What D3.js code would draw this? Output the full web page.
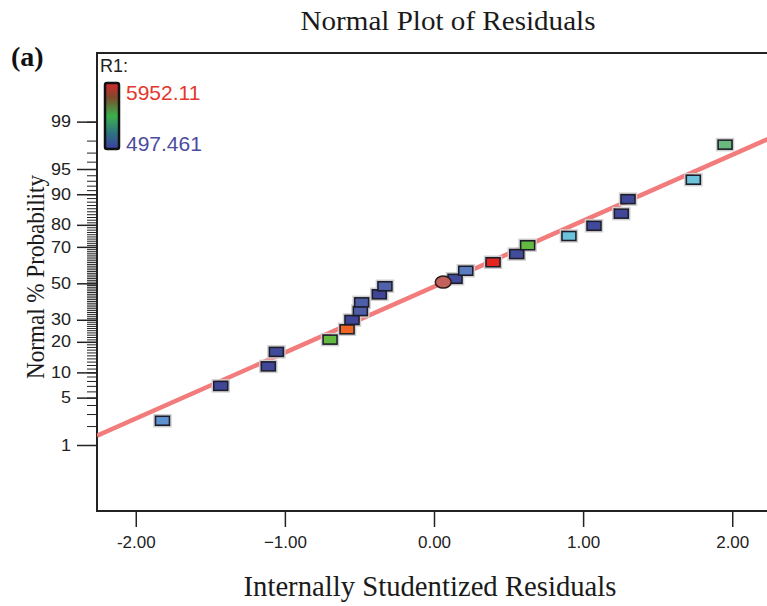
<!DOCTYPE html>
<html>
<head>
<meta charset="utf-8">
<script src="https://cdn.jsdelivr.net/npm/d3@7"></script>
<style>
  html, body { margin: 0; padding: 0; background: #ffffff; }
  svg { display: block; }
</style>
</head>
<body>
<svg id="chart" width="767" height="606"></svg>
<script>
// ---------------- DATA ----------------
// Internally studentized residuals (x) and normal % probability (y) of each run
const residuals = [-1.821, -1.430, -1.111, -1.057, -0.697, -0.583, -0.550, -0.494, -0.485, -0.367, -0.329,
                    0.062, 0.141, 0.213, 0.396, 0.555, 0.628, 0.905, 1.073, 1.256, 1.301, 1.739, 1.952];
const probabilities = [2.4, 7.0, 11.6, 16.2, 20.9, 25.4, 29.9, 34.5, 39.2, 43.7, 48.3,
                       50.7, 52.6, 57.2, 61.9, 66.3, 70.8, 75.2, 79.6, 84.2, 88.7, 93.2, 97.7];
// Estimated response R1 of each run (colour-coded)
const r1Values = [2000, 700, 700, 750, 3500, 4900, 700, 1200, 1200, 650, 1300,
                  5400, 750, 1700, 5900, 800, 3500, 2600, 750, 700, 700, 2600, 3100];
const selectedIndex = 11;               // highlighted run (drawn as an ellipse)
const r1Min = 497.461, r1Max = 5952.11;
const r1Label = "R1:";

// Reference line (normal % probability line), endpoints in residual / z units
const lineX = [-2.26, 2.26];
const lineZ = [-2.193, 2.096];

const xTicks = [-2, -1, 0, 1, 2];
const xTickLabels = ["-2.00", "\u22121.00", "0.00", "1.00", "2.00"];
const yMajorTicks = [1, 5, 10, 20, 30, 50, 70, 80, 90, 95, 99];
const yMinorTicks = d3.range(1, 100);

const titleText = "Normal Plot of Residuals";
const xTitle = "Internally Studentized Residuals";
const yTitle = "Normal % Probability";
const panelLabel = "(a)";

// ---------------- HELPERS ----------------
// Inverse standard normal CDF (Acklam)
function probit(p) {
  const a = [-3.969683028665376e+01, 2.209460984245205e+02, -2.759285104469687e+02, 1.383577518672690e+02, -3.066479806614716e+01, 2.506628277459239e+00];
  const b = [-5.447609879822406e+01, 1.615858368580409e+02, -1.556989798598866e+02, 6.680131188771972e+01, -1.328068155288572e+01];
  const c = [-7.784894002430293e-03, -3.223964580411365e-01, -2.400758277161838e+00, -2.549732539343734e+00, 4.374664141464968e+00, 2.938163982698783e+00];
  const d = [7.784695709041462e-03, 3.224671290700398e-01, 2.445134137142996e+00, 3.754408661907416e+00];
  const pl = 0.02425, ph = 1 - pl;
  let q, r;
  if (p < pl) {
    q = Math.sqrt(-2 * Math.log(p));
    return (((((c[0]*q+c[1])*q+c[2])*q+c[3])*q+c[4])*q+c[5]) / ((((d[0]*q+d[1])*q+d[2])*q+d[3])*q+1);
  } else if (p <= ph) {
    q = p - 0.5; r = q * q;
    return (((((a[0]*r+a[1])*r+a[2])*r+a[3])*r+a[4])*r+a[5])*q / (((((b[0]*r+b[1])*r+b[2])*r+b[3])*r+b[4])*r+1);
  } else {
    q = Math.sqrt(-2 * Math.log(1 - p));
    return -(((((c[0]*q+c[1])*q+c[2])*q+c[3])*q+c[4])*q+c[5]) / ((((d[0]*q+d[1])*q+d[2])*q+d[3])*q+1);
  }
}

// ---------------- LAYOUT ----------------
const svg = d3.select("#chart");
const plotLeft = 97, plotTop = 53, plotBottom = 511, plotRight = 771;

const x = d3.scaleLinear().domain([-2.26, 2.26]).range([plotLeft, plotRight]);
const yz = d3.scaleLinear().domain([-3.276, 3.314]).range([plotBottom, plotTop]);
// probability scale (percent -> pixel) built on the normal quantile
function yP(pct) { return yz(probit(pct / 100)); }
yP.copy = () => yP;
yP.range = () => yz.range();
yP.domain = () => [0.05, 99.95];

const serif = "'Liberation Serif','Times New Roman',Times,serif";
const sans = "'Liberation Sans',Arial,Helvetica,sans-serif";

// clip
svg.append("defs").append("clipPath").attr("id", "clip")
  .append("rect").attr("x", plotLeft).attr("y", plotTop)
  .attr("width", plotRight - plotLeft).attr("height", plotBottom - plotTop);

// legend gradient
const grad = svg.select("defs").append("linearGradient")
  .attr("id", "r1grad").attr("x1", 0).attr("y1", 0).attr("x2", 0).attr("y2", 1);
[["0%", "#d9282a"], ["22%", "#7d4a2c"], ["50%", "#3bb04a"], ["78%", "#2e6f86"], ["100%", "#3c3ea0"]]
  .forEach(([o, c]) => grad.append("stop").attr("offset", o).attr("stop-color", c));

const color = d3.scaleLinear()
  .domain([r1Min, 1300, 2000, 2600, 3100, 3500, 4900, r1Max])
  .range(["#3b3e92", "#4f62aa", "#5e92d0", "#6cc4da", "#69b87c", "#62bb40", "#f06424", "#e6221f"]);

// ---------------- TITLES ----------------
svg.append("text").attr("x", 448).attr("y", 30).attr("text-anchor", "middle")
  .attr("textLength", 295).attr("lengthAdjust", "spacingAndGlyphs")
  .style("font-family", serif).style("font-size", "28px").attr("fill", "#1a1a1a").text(titleText);
svg.append("text").attr("x", 11).attr("y", 66)
  .style("font-family", serif).style("font-size", "28px").style("font-weight", "bold").attr("fill", "#111").text(panelLabel);
svg.append("text").attr("x", 430).attr("y", 596).attr("text-anchor", "middle")
  .attr("textLength", 373).attr("lengthAdjust", "spacingAndGlyphs")
  .style("font-family", serif).style("font-size", "29px").attr("fill", "#1a1a1a").text(xTitle);
svg.append("text").attr("transform", "translate(44,277) rotate(-90)").attr("text-anchor", "middle")
  .attr("textLength", 204).attr("lengthAdjust", "spacingAndGlyphs")
  .style("font-family", serif).style("font-size", "26px").attr("fill", "#1a1a1a").text(yTitle);

// ---------------- AXES ----------------
const yMinorAxis = d3.axisLeft(yP).tickValues(yMinorTicks).tickSize(10).tickFormat("").tickSizeOuter(0);
const gMinor = svg.append("g").attr("transform", `translate(${plotLeft},0)`).call(yMinorAxis);
gMinor.select(".domain").remove();
gMinor.selectAll(".tick line").attr("stroke", "#222").attr("stroke-width", 1);

const yMajorAxis = d3.axisLeft(yP).tickValues(yMajorTicks).tickSize(20).tickPadding(6).tickSizeOuter(0);
const gMajor = svg.append("g").attr("transform", `translate(${plotLeft},0)`).call(yMajorAxis);
gMajor.select(".domain").remove();
gMajor.selectAll(".tick line").attr("stroke", "#222").attr("stroke-width", 1.5);
gMajor.selectAll(".tick text").style("font-family", sans).style("font-size", "16px").attr("fill", "#222")
  .attr("textLength", d => String(d).length * 10).attr("lengthAdjust", "spacingAndGlyphs");

const xAxis = d3.axisBottom(x).tickValues(xTicks).tickSize(16).tickPadding(9)
  .tickFormat((d, i) => xTickLabels[i]).tickSizeOuter(0);
const gx = svg.append("g").attr("transform", `translate(0,${plotBottom})`).call(xAxis);
gx.select(".domain").remove();
gx.selectAll(".tick line").attr("stroke", "#222").attr("stroke-width", 1.5);
gx.selectAll(".tick text").style("font-family", sans).style("font-size", "17px").attr("fill", "#222");

// frame
svg.append("path")
  .attr("d", `M${plotRight},${plotTop}H${plotLeft}V${plotBottom}H${plotRight}`)
  .attr("fill", "none").attr("stroke", "#222").attr("stroke-width", 2);

// ---------------- REFERENCE LINE ----------------
const plot = svg.append("g").attr("clip-path", "url(#clip)");
plot.append("line")
  .attr("x1", x(lineX[0])).attr("y1", yz(lineZ[0]))
  .attr("x2", x(lineX[1])).attr("y2", yz(lineZ[1]))
  .attr("stroke", "#f27b7b").attr("stroke-width", 4.5).attr("stroke-linecap", "butt");

// ---------------- POINTS ----------------
const pts = residuals.map((r, i) => ({ x: r, p: probabilities[i], v: r1Values[i], i }));
const mw = 14, mh = 9;
const rects = pts.filter(d => d.i !== selectedIndex);
plot.selectAll("rect.halo").data(rects).join("rect").attr("class", "halo")
  .attr("x", d => x(d.x) - mw / 2 - 1.5).attr("y", d => yP(d.p) - mh / 2 - 1.5)
  .attr("width", mw + 3).attr("height", mh + 3)
  .attr("fill", "none").attr("stroke", "#d0d0d0").attr("stroke-width", 1.5);
plot.selectAll("rect.pt").data(rects).join("rect").attr("class", "pt")
  .attr("x", d => x(d.x) - mw / 2).attr("y", d => yP(d.p) - mh / 2)
  .attr("width", mw).attr("height", mh)
  .attr("fill", d => color(d.v)).attr("stroke", "#1e1e2a").attr("stroke-width", 1.6);
const sel = pts[selectedIndex];
plot.append("ellipse")
  .attr("cx", x(sel.x)).attr("cy", yP(sel.p)).attr("rx", 8).attr("ry", 6)
  .attr("fill", "#c2605b").attr("stroke", "#2a1a1a").attr("stroke-width", 1.5);

// ---------------- LEGEND ----------------
svg.append("text").attr("x", 100).attr("y", 72)
  .style("font-family", sans).style("font-size", "18px").attr("fill", "#222").text(r1Label);
svg.append("rect").attr("x", 105).attr("y", 83).attr("width", 14).attr("height", 66).attr("rx", 2)
  .attr("fill", "url(#r1grad)").attr("stroke", "#111").attr("stroke-width", 2.5);
svg.append("text").attr("x", 126).attr("y", 100)
  .style("font-family", sans).style("font-size", "21px").attr("fill", "#e4382e").text(d3.format(".2f")(r1Max));
svg.append("text").attr("x", 126).attr("y", 151)
  .style("font-family", sans).style("font-size", "21px").attr("fill", "#4b4c9e").text(d3.format(".3f")(r1Min));
</script>
</body>
</html>
